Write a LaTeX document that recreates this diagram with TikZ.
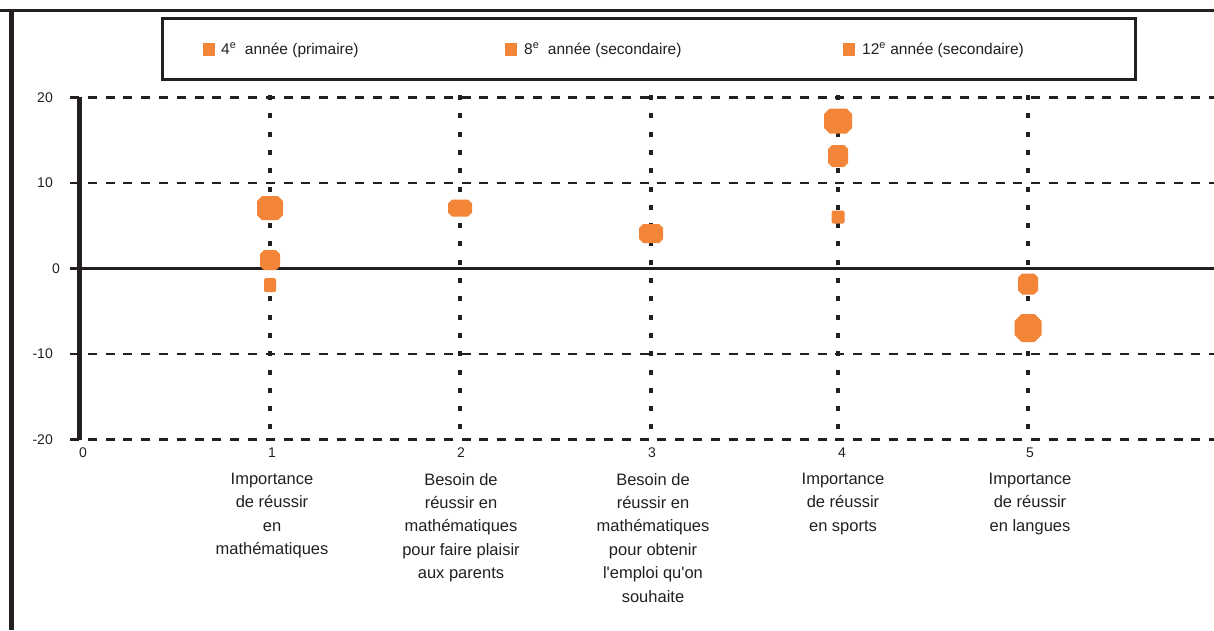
\documentclass[tikz,border=0pt]{standalone}
\usepackage{fontspec}
\setmainfont{Liberation Sans}
\definecolor{ink}{HTML}{231F20}
\definecolor{orng}{HTML}{F28537}
% octagonal marker: name, x, y, width, height, chamfer
\newcommand{\octmark}[6]{%
  \coordinate (#1) at (#2,#3);
  \fill[orng] (#2-#4/2+#6,#3-#5/2) -- (#2+#4/2-#6,#3-#5/2) -- (#2+#4/2,#3-#5/2+#6)
    -- (#2+#4/2,#3+#5/2-#6) -- (#2+#4/2-#6,#3+#5/2) -- (#2-#4/2+#6,#3+#5/2)
    -- (#2-#4/2,#3+#5/2-#6) -- (#2-#4/2,#3-#5/2+#6) -- cycle;}
\begin{document}
\begin{tikzpicture}[x=1pt,y=-1pt,
  legsq/.style={fill=orng, draw=none, inner sep=0pt, minimum width=12pt, minimum height=13pt},
  legtxt/.style={anchor=west, inner sep=0pt, text=ink, font=\fontsize{15.5}{18}\selectfont},
  tick/.style={inner sep=0pt, text=ink, font=\fontsize{14}{16}\selectfont},
  cat/.style={anchor=north, inner sep=0pt, align=center, text=ink, font=\fontsize{16.5}{23.4}\selectfont},
  hgrid/.style={draw=ink, line width=2.5pt, dash pattern=on 9pt off 8.8pt},
  vgrid/.style={draw=ink, line width=4.5pt, dash pattern=on 5pt off 13.3pt},
]
\useasboundingbox (0,0) rectangle (1214,630);
% outer frame
\draw[ink, line width=3pt] (0,10.5) -- (1214,10.5);
\draw[ink, line width=5pt] (11.5,9) -- (11.5,630);
% legend
\node[draw=ink, line width=3.5pt, minimum width=973pt, minimum height=61pt, inner sep=0pt] (legend) at (649,49) {};
\node[legsq] (k1) at (209,49) {};
\node[legtxt] (t1) at (221,50) {4\textsuperscript{e}\ \ année (primaire)};
\node[legsq] (k2) at (511,49) {};
\node[legtxt] (t2) at (524,50) {8\textsuperscript{e}\ \ année (secondaire)};
\node[legsq] (k3) at (849,49) {};
\node[legtxt] (t3) at (862,50) {12\textsuperscript{e} année (secondaire)};
% grid
\foreach \yy in {97.5,183,354,439.5} \draw[hgrid] (70,\yy) -- (1214,\yy);
\draw[ink, line width=3pt] (70,268.5) -- (1214,268.5);
\foreach \xx in {270,460,651,838,1028} \draw[vgrid] (\xx,95) -- (\xx,440);
\draw[ink, line width=5.5pt] (79.5,97) -- (79.5,440);
% y tick labels
\node[tick, anchor=east] (y20) at (53,97.5) {20};
\node[tick, anchor=east] (y10) at (53,183) {10};
\node[tick, anchor=east] (y0) at (60,268.5) {0};
\node[tick, anchor=east] (ym10) at (53,354) {-10};
\node[tick, anchor=east] (ym20) at (53,439.5) {-20};
% x tick labels
\node[tick] (x0) at (83,453) {0};
\node[tick] (x1) at (272,453) {1};
\node[tick] (x2) at (461,453) {2};
\node[tick] (x3) at (652,453) {3};
\node[tick] (x4) at (842,453) {4};
\node[tick] (x5) at (1030,453) {5};
% markers
\octmark{a12}{270}{208}{26}{24}{5}
\octmark{a8}{270}{260}{20}{20}{4}
\octmark{a4}{270}{285}{12}{14}{1.5}
\octmark{b}{460}{208}{24}{17}{4}
\octmark{c}{651}{233.5}{24}{19}{4}
\octmark{d12}{838}{121}{28}{25}{5.5}
\octmark{d8}{838}{156}{20}{22}{4}
\octmark{d4}{838}{217}{13}{13}{1.5}
\octmark{e8}{1028}{284}{20}{21}{4}
\octmark{e12}{1028}{328}{27}{28}{7}
% category labels
\node[cat] (c1) at (272,473) {Importance\\de réussir\\en\\mathématiques};
\node[cat] (c2) at (461,473) {Besoin de\\réussir en\\mathématiques\\pour faire plaisir\\aux parents};
\node[cat] (c3) at (653,473) {Besoin de\\réussir en\\mathématiques\\pour obtenir\\l\textquotesingle emploi qu\textquotesingle on\\souhaite};
\node[cat] (c4) at (843,473) {Importance\\de réussir\\en sports};
\node[cat] (c5) at (1030,473) {Importance\\de réussir\\en langues};
\end{tikzpicture}
\end{document}
